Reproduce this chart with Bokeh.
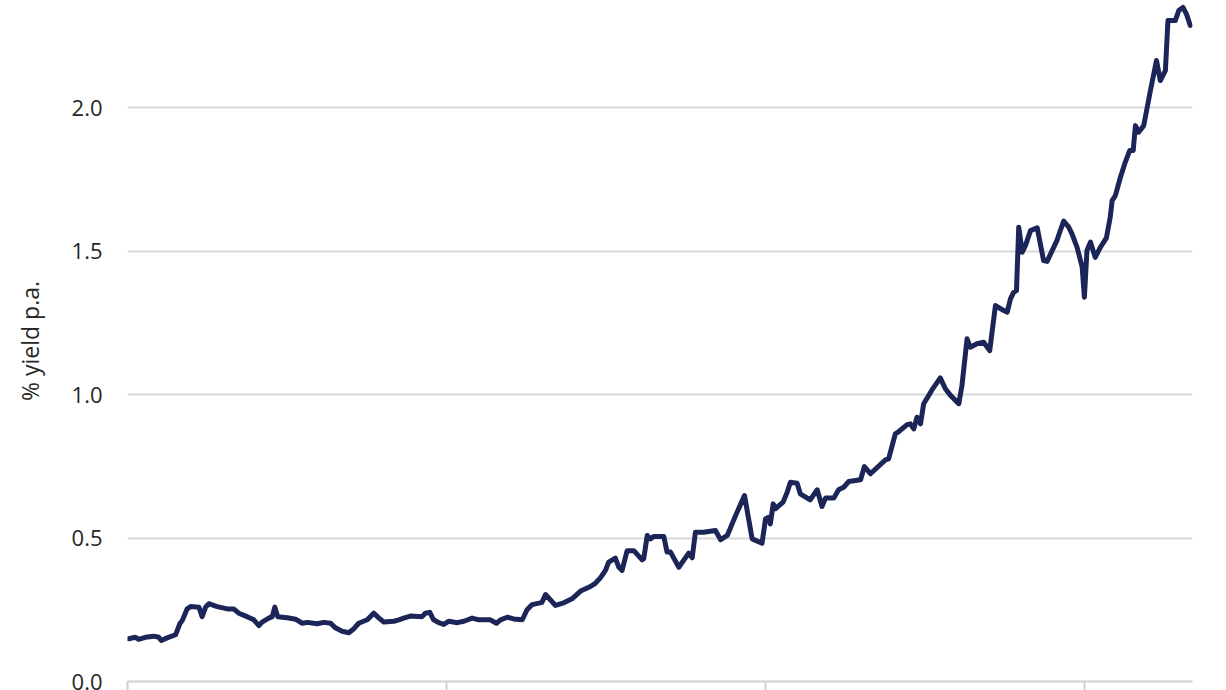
from bokeh.plotting import figure
from bokeh.models import Range1d, FixedTicker, PrintfTickFormatter, ColumnDataSource, CustomJSTickFormatter
from bokeh.embed import file_html
from bokeh.resources import INLINE

# time in years since start of series
t_years = [0.004, 0.025, 0.035, 0.056, 0.082, 0.098, 0.106, 0.124, 0.151, 0.164, 0.172, 0.187, 0.198,
           0.224, 0.234, 0.245, 0.255, 0.281, 0.313, 0.333, 0.349, 0.375, 0.396, 0.412, 0.422, 0.443,
           0.454, 0.462, 0.471, 0.501, 0.527, 0.548, 0.564, 0.595, 0.616, 0.637, 0.652, 0.673, 0.694,
           0.710, 0.725, 0.752, 0.772, 0.788, 0.804, 0.835, 0.851, 0.866, 0.887, 0.924, 0.934, 0.948,
           0.960, 0.976, 0.992, 1.008, 1.034, 1.055, 1.081, 1.102, 1.138, 1.157, 1.170, 1.191, 1.211,
           1.238, 1.253, 1.269, 1.290, 1.300, 1.311, 1.326, 1.342, 1.368, 1.394, 1.421, 1.452, 1.468,
           1.483, 1.499, 1.509, 1.530, 1.541, 1.551, 1.567, 1.588, 1.614, 1.619, 1.630, 1.640, 1.650,
           1.682, 1.692, 1.703, 1.729, 1.744, 1.760, 1.771, 1.781, 1.807, 1.844, 1.860, 1.881, 1.907,
           1.935, 1.959, 1.990, 2.001, 2.011, 2.016, 2.025, 2.032, 2.056, 2.069, 2.079, 2.100, 2.110,
           2.141, 2.163, 2.178, 2.189, 2.215, 2.230, 2.246, 2.262, 2.299, 2.311, 2.330, 2.377, 2.387,
           2.408, 2.419, 2.445, 2.455, 2.466, 2.476, 2.487, 2.497, 2.523, 2.549, 2.565, 2.581, 2.607,
           2.617, 2.633, 2.643, 2.664, 2.685, 2.704, 2.722, 2.738, 2.759, 2.769, 2.779, 2.788, 2.795,
           2.806, 2.816, 2.832, 2.853, 2.873, 2.884, 2.915, 2.920, 2.936, 2.952, 2.962, 2.978, 2.994,
           3.001, 3.009, 3.020, 3.035, 3.051, 3.070, 3.082, 3.088, 3.098, 3.114, 3.129, 3.143, 3.154,
           3.161, 3.171, 3.187, 3.208, 3.227, 3.239, 3.255, 3.263, 3.286, 3.297, 3.310, 3.321, 3.333]

yield_pct = [0.149, 0.154, 0.147, 0.154, 0.158, 0.154, 0.143, 0.152, 0.163, 0.201, 0.213, 0.253, 0.261,
             0.259, 0.226, 0.259, 0.271, 0.261, 0.253, 0.253, 0.238, 0.226, 0.215, 0.195, 0.207, 0.221,
             0.226, 0.259, 0.226, 0.222, 0.217, 0.203, 0.206, 0.201, 0.206, 0.203, 0.187, 0.175, 0.170,
             0.184, 0.203, 0.215, 0.238, 0.222, 0.207, 0.210, 0.215, 0.221, 0.228, 0.226, 0.238, 0.241,
             0.215, 0.205, 0.199, 0.210, 0.205, 0.210, 0.221, 0.215, 0.215, 0.203, 0.215, 0.224, 0.218,
             0.215, 0.250, 0.268, 0.273, 0.276, 0.303, 0.285, 0.265, 0.274, 0.288, 0.315, 0.331, 0.343,
             0.361, 0.387, 0.416, 0.430, 0.398, 0.387, 0.456, 0.456, 0.424, 0.428, 0.509, 0.497, 0.505,
             0.505, 0.451, 0.451, 0.398, 0.422, 0.447, 0.431, 0.520, 0.520, 0.526, 0.494, 0.509, 0.578,
             0.648, 0.497, 0.482, 0.567, 0.572, 0.549, 0.619, 0.602, 0.625, 0.660, 0.694, 0.691, 0.654,
             0.633, 0.668, 0.610, 0.639, 0.639, 0.668, 0.677, 0.697, 0.703, 0.749, 0.724, 0.772, 0.776,
             0.863, 0.871, 0.895, 0.898, 0.880, 0.921, 0.898, 0.968, 1.016, 1.058, 1.020, 0.997, 0.968,
             1.031, 1.194, 1.165, 1.177, 1.182, 1.153, 1.310, 1.299, 1.287, 1.333, 1.356, 1.362, 1.583,
             1.496, 1.519, 1.571, 1.581, 1.467, 1.464, 1.537, 1.554, 1.604, 1.583, 1.560, 1.513, 1.444,
             1.339, 1.502, 1.531, 1.478, 1.513, 1.546, 1.618, 1.676, 1.693, 1.757, 1.809, 1.850, 1.850,
             1.937, 1.914, 1.937, 2.059, 2.164, 2.094, 2.129, 2.303, 2.303, 2.338, 2.349, 2.326, 2.286]

y_ticks = [0.0, 0.5, 1.0, 1.5, 2.0]
x_ticks = [0, 1, 2, 3]
y_label = "% yield p.a."

FONT = "Open Sans"
TEXT = "#262626"
GRID = "#d9d9d9"

src = ColumnDataSource(dict(t=t_years, y=yield_pct))

p = figure(width=1226, height=690, output_backend="svg", toolbar_location=None,
           x_range=Range1d(0, 3.34), y_range=Range1d(0, 2.373),
           min_border_left=127, min_border_right=34, min_border_top=0, min_border_bottom=9)
p.outline_line_color = None
p.background_fill_color = "white"
p.border_fill_color = "white"

p.line("t", "y", source=src, line_color="#1c2557", line_width=5, line_join="round", line_cap="round")

# y axis
ya = p.yaxis[0]
ya.ticker = FixedTicker(ticks=y_ticks)
ya.formatter = PrintfTickFormatter(format="%.1f")
ya.axis_line_color = None
ya.major_tick_line_color = None
ya.minor_tick_line_color = None
ya.major_label_text_font = FONT
ya.major_label_text_font_size = "22px"
ya.major_label_text_color = TEXT
ya.major_label_standoff = 19
ya.axis_label = y_label
ya.axis_label_text_font = FONT
ya.axis_label_text_font_size = "23px"
ya.axis_label_text_font_style = "normal"
ya.axis_label_text_color = TEXT
ya.axis_label_standoff = 23

# x axis (no labels visible)
xa = p.xaxis[0]
xa.ticker = FixedTicker(ticks=x_ticks)
xa.formatter = CustomJSTickFormatter(code="return '';")
xa.axis_line_color = "#d0d0d0"
xa.axis_line_width = 2
xa.major_tick_line_color = "#d0d0d0"
xa.major_tick_line_width = 2
xa.major_tick_in = 0
xa.major_tick_out = 9
xa.minor_tick_line_color = None
xa.major_label_text_font_size = "1px"
xa.major_label_standoff = 0

p.xgrid.grid_line_color = None
p.ygrid.ticker = FixedTicker(ticks=[0.5, 1.0, 1.5, 2.0])
p.ygrid.grid_line_color = GRID
p.ygrid.grid_line_width = 2

open("out.html", "w").write(file_html(p, INLINE))
